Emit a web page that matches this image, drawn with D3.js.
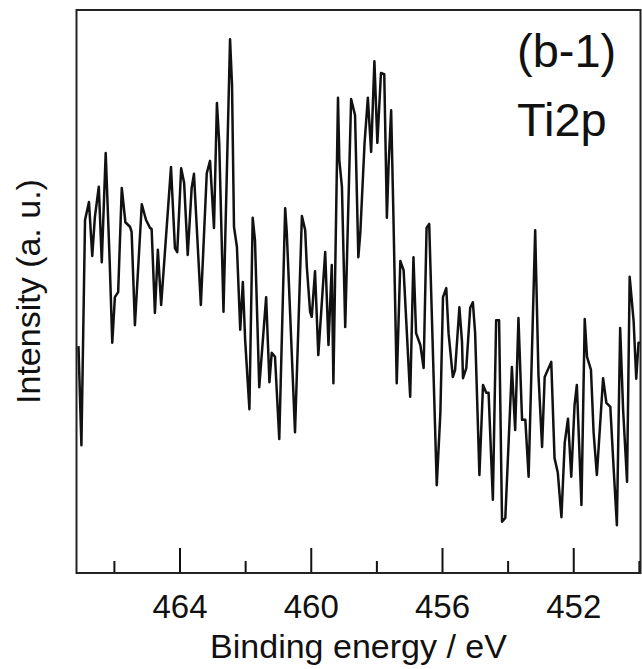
<!DOCTYPE html>
<html>
<head>
<meta charset="utf-8">
<script src="https://cdn.jsdelivr.net/npm/d3@7/dist/d3.min.js"></script>
<style>
    html, body { margin: 0; padding: 0; background: #fff; }
    svg { display: block; font-family: Arial, "Liberation Sans", sans-serif; }
</style>
</head>
<body>
<svg id="chart" width="642" height="669"></svg>
<script>
'use strict';

// binding energy (eV) of each vertex
const energy = [
    467.08, 466.99, 466.88, 466.76, 466.66, 466.58, 466.46, 466.37, 466.25, 466.13,
    466.05, 465.97, 465.87, 465.76, 465.65, 465.51, 465.46, 465.36, 465.15, 465.02,
    464.90, 464.85, 464.75, 464.66, 464.56, 464.26, 464.14, 464.07, 463.95, 463.86,
    463.75, 463.63, 463.56, 463.35, 463.17, 463.07, 462.95, 462.86, 462.79, 462.66,
    462.46, 462.40, 462.34, 462.25, 462.15, 462.07, 462.00, 461.87, 461.77, 461.70,
    461.57, 461.36, 461.26, 461.19, 461.09, 460.96, 460.78, 460.73, 460.48, 460.27,
    460.17, 460.12, 460.02, 459.97, 459.87, 459.77, 459.56, 459.46, 459.36, 459.31,
    459.17, 459.13, 459.05, 458.95, 458.77, 458.65, 458.55, 458.49, 458.36, 458.26,
    458.16, 458.06, 457.97, 457.86, 457.76, 457.68, 457.63, 457.55, 457.48, 457.38,
    457.27, 457.17, 456.97, 456.87, 456.79, 456.66, 456.56, 456.47, 456.39, 456.16,
    456.05, 455.97, 455.87, 455.80, 455.67, 455.60, 455.47, 455.39, 455.36, 455.26,
    455.14, 455.06, 454.99, 454.86, 454.75, 454.65, 454.58, 454.45, 454.35, 454.26,
    454.17, 454.07, 453.87, 453.77, 453.67, 453.56, 453.46, 453.36, 453.16, 453.06,
    452.95, 452.87, 452.67, 452.57, 452.47, 452.36, 452.26, 452.16, 452.06, 451.96,
    451.89, 451.75, 451.65, 451.58, 451.46, 451.38, 451.28, 451.09, 450.99, 450.87,
    450.77, 450.67, 450.57, 450.48, 450.36, 450.28, 450.16, 450.08, 450.01, 449.96
];

// intensity in arbitrary units (0 = bottom of frame, 100 = top of frame)
const intensity = [
    40.3, 22.7, 62.7, 65.9, 56.3, 63.2, 68.6, 55.2, 74.6, 55.6,
    40.9, 49.0, 49.9, 68.4, 62.3, 61.5, 60.6, 44.0, 65.5, 62.7,
    61.3, 61.1, 46.2, 57.4, 47.6, 72.1, 57.7, 57.0, 71.9, 69.3,
    56.5, 68.4, 70.9, 47.6, 71.0, 73.2, 61.3, 83.5, 76.4, 46.4,
    94.8, 86.7, 61.5, 57.9, 43.2, 51.7, 41.4, 29.1, 63.1, 59.1,
    33.0, 49.0, 33.9, 39.1, 38.4, 23.8, 64.8, 60.4, 25.0, 63.4,
    60.9, 54.4, 46.4, 45.5, 53.6, 38.7, 57.0, 40.5, 54.7, 33.7,
    84.4, 73.4, 68.6, 43.7, 84.2, 81.3, 56.1, 60.4, 76.4, 84.4,
    74.8, 90.9, 76.4, 88.8, 88.6, 63.1, 72.1, 82.2, 63.2, 33.7,
    55.4, 53.8, 31.3, 56.1, 42.6, 40.5, 36.4, 61.3, 62.0, 15.6,
    28.4, 49.0, 50.6, 42.6, 34.8, 36.1, 47.2, 41.0, 34.6, 36.4,
    47.1, 48.1, 42.6, 17.4, 33.4, 32.0, 32.0, 13.0, 44.9, 44.9,
    9.1, 9.8, 36.6, 25.4, 45.3, 27.2, 27.2, 17.1, 60.9, 35.2,
    22.4, 34.8, 37.5, 20.4, 17.8, 9.9, 23.1, 27.4, 17.1, 29.8,
    33.4, 12.1, 45.1, 38.4, 36.1, 25.0, 17.4, 34.6, 30.2, 29.5,
    18.7, 8.5, 43.5, 29.0, 16.2, 52.6, 44.8, 34.5, 40.9, 40.9
];

const majorTicks = [464, 460, 456, 452];
const minorTicks = [466, 462, 458, 454, 450];
const energyRange = [467.14, 449.95];
const intensityRange = [0, 100];

const xTitle = 'Binding energy / eV';
const yTitle = 'Intensity (a. u.)';
const panelLabel = '(b-1)';
const peakLabel = 'Ti2p';

class SpectrumChart {
    constructor(selector) {
        this.svg = d3.select(selector);
        this.box = {left: 76.5, right: 640.5, top: 10, bottom: 573};
        this.setUpScales();
        this.drawChart();
    }

    setUpScales() {
        this.xScale = d3.scaleLinear()
            .domain(energyRange)
            .range([this.box.left, this.box.right]);

        this.yScale = d3.scaleLinear()
            .domain(intensityRange)
            .range([this.box.bottom, this.box.top]);
    }

    drawChart() {
        this.drawAxes();
        this.drawLine();
        this.drawFrame();
        this.drawTexts();
    }

    drawAxes() {
        // ticks point inward, labels only on the major ones
        const major = d3.axisBottom(this.xScale)
            .tickValues(majorTicks)
            .tickSize(-25)
            .tickPadding(22)
            .tickFormat(d3.format('d'));

        const minor = d3.axisBottom(this.xScale)
            .tickValues(minorTicks)
            .tickSize(-12)
            .tickFormat('');

        [minor, major].forEach(axis => {
            const g = this.svg.append('g')
                .attr('transform', `translate(0,${this.box.bottom})`)
                .call(axis);
            g.select('.domain').remove();
            g.selectAll('.tick line')
                .attr('stroke', '#111')
                .attr('stroke-width', 2);
            g.selectAll('.tick text')
                .attr('fill', '#111')
                .style('font-size', '33px');
        });
    }

    drawLine() {
        const points = energy.map((e, i) => [e, intensity[i]]);

        const line = d3.line()
            .x(d => this.xScale(d[0]))
            .y(d => this.yScale(d[1]));

        this.svg.append('path')
            .datum(points)
            .attr('fill', 'none')
            .attr('stroke', '#111')
            .attr('stroke-width', 2.5)
            .attr('stroke-linejoin', 'round')
            .attr('d', line);
    }

    drawFrame() {
        this.svg.append('rect')
            .attr('x', this.box.left)
            .attr('y', this.box.top)
            .attr('width', this.box.right - this.box.left)
            .attr('height', this.box.bottom - this.box.top)
            .attr('fill', 'none')
            .attr('stroke', '#222')
            .attr('stroke-width', 2);
    }

    drawTexts() {
        const midX = (this.box.left + this.box.right) / 2;
        const midY = (this.box.top + this.box.bottom) / 2;

        this.svg.append('text')
            .attr('x', midX)
            .attr('y', 658)
            .attr('text-anchor', 'middle')
            .style('font-size', '34px')
            .attr('fill', '#111')
            .text(xTitle);

        this.svg.append('text')
            .attr('transform', `translate(40,${midY}) rotate(-90)`)
            .attr('text-anchor', 'middle')
            .style('font-size', '34px')
            .attr('fill', '#111')
            .text(yTitle);

        this.svg.append('text')
            .attr('x', 517)
            .attr('y', 67)
            .style('font-size', '47px')
            .attr('fill', '#111')
            .text(panelLabel);

        this.svg.append('text')
            .attr('x', 517)
            .attr('y', 136)
            .style('font-size', '47px')
            .attr('fill', '#111')
            .text(peakLabel);
    }
}

new SpectrumChart('#chart');
</script>
</body>
</html>
